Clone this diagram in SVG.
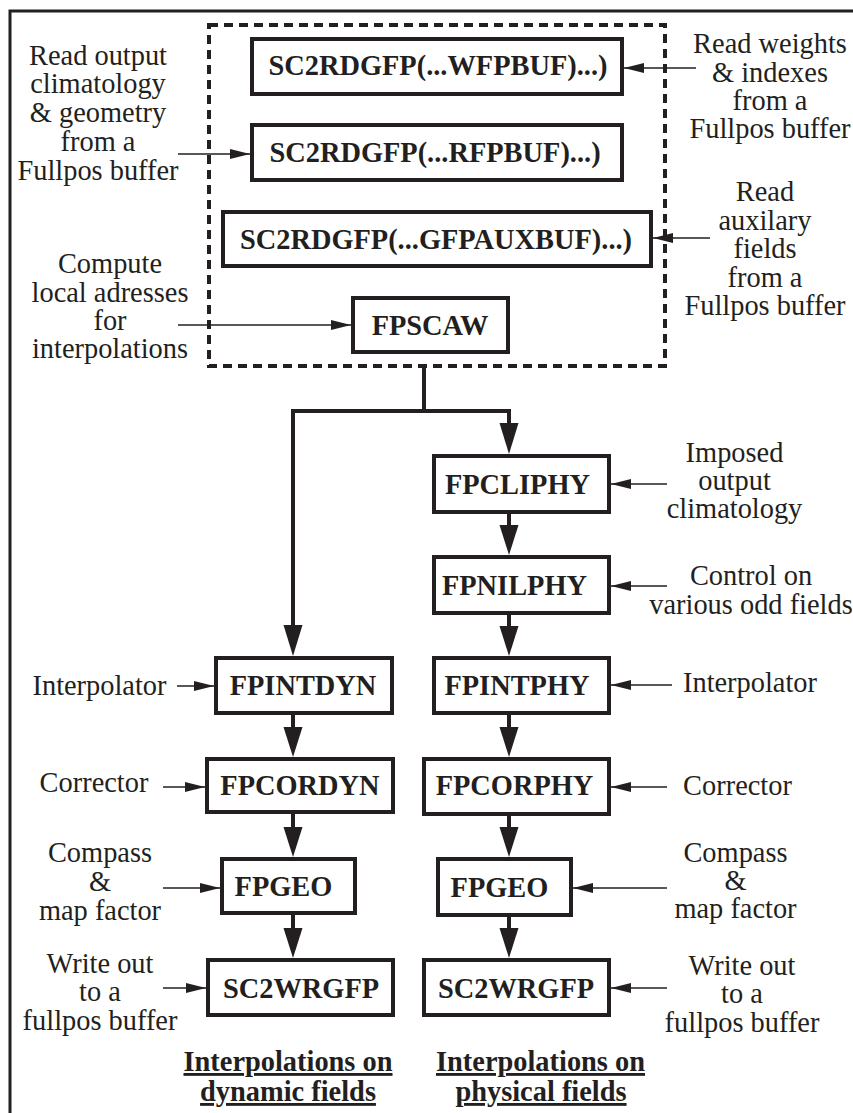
<svg xmlns="http://www.w3.org/2000/svg" width="853" height="1113" viewBox="0 0 853 1113" font-family="'Liberation Serif', 'DejaVu Serif', serif">
<defs>
<style>
.box{fill:#fff;stroke:#231f20;stroke-width:4}
text{font-family:'Liberation Serif','DejaVu Serif',serif;fill:#231f20;text-anchor:middle;font-size:28.4px}
.bt{font-weight:bold}
.cap{font-weight:bold;text-decoration:underline}
.thickn{fill:none;stroke:#231f20;stroke-width:4}
.thin{fill:none;stroke:#231f20;stroke-width:1.3;marker-end:url(#small)}
</style>
<marker id="small" markerUnits="userSpaceOnUse" markerWidth="21" markerHeight="11" refX="20" refY="5.5" orient="auto" viewBox="0 0 21 11">
<path d="M0,0.5 L20,5.5 L0,10.5 Z" fill="#231f20"/>
</marker>
</defs>
<rect x="10" y="11" width="860" height="1120" fill="none" stroke="#231f20" stroke-width="3"/>
<rect id="group-box" x="209" y="25" width="456" height="341" fill="none" stroke="#231f20" stroke-width="4" stroke-dasharray="9 6"/>

<g id="connectors">
<path class="thickn" d="M424,366 V411 H293 V630"/>
<path class="thickn" d="M424,411 H509 V425"/>
<path class="thin" d="M178,154 H250"/>
<path class="thin" d="M178,325 H351"/>
<path class="thin" d="M696,68 H624"/>
<path class="thin" d="M710,238 H653"/>
<path class="thin" d="M667,484 H611"/>
<path class="thin" d="M667,586 H611"/>
<path class="thin" d="M672,685 H611"/>
<path class="thin" d="M667,787 H611"/>
<path class="thin" d="M667,888 H573"/>
<path class="thin" d="M667,988 H611"/>
<path class="thin" d="M177,686 H214"/>
<path class="thin" d="M163,787 H205"/>
<path class="thin" d="M163,888 H220"/>
<path class="thin" d="M163,988 H206"/>
<g fill="#231f20">
<polygon points="283.5,625 302.5,625 293,656"/>
<polygon points="499.5,423 518.5,423 509,454"/>
<path class="thickn" d="M293,715 V735 M293,814 V835 M293,915 V935 M509,514 V533 M509,615 V634 M509,715 V735 M509,816 V835 M509,917 V936"/>
<polygon points="283.5,727 302.5,727 293,757"/>
<polygon points="283.5,827 302.5,827 293,857"/>
<polygon points="283.5,928 302.5,928 293,958"/>
<polygon points="499.5,525 518.5,525 509,555"/>
<polygon points="499.5,626 518.5,626 509,656"/>
<polygon points="499.5,727 518.5,727 509,757"/>
<polygon points="499.5,827 518.5,827 509,857"/>
<polygon points="499.5,928 518.5,928 509,958"/>
</g>
</g>

<g id="n-wfpbuf"><rect class="box" x="252" y="39" width="370" height="55"/><text class="bt" x="438" y="75">SC2RDGFP(...WFPBUF)...)</text></g>
<g id="n-rfpbuf"><rect class="box" x="252" y="125" width="370" height="55"/><text class="bt" x="435" y="162">SC2RDGFP(...RFPBUF)...)</text></g>
<g id="n-gfpauxbuf"><rect class="box" x="223" y="212" width="428" height="54"/><text class="bt" x="436" y="248.5">SC2RDGFP(...GFPAUXBUF)...)</text></g>
<g id="n-fpscaw"><rect class="box" x="353" y="298" width="155" height="54"/><text class="bt" x="430" y="334.5">FPSCAW</text></g>

<g id="n-fpcliphy"><rect class="box" x="434" y="456" width="175" height="56"/><text class="bt" x="517.5" y="493.5">FPCLIPHY</text></g>
<g id="n-fpnilphy"><rect class="box" x="434" y="557" width="175" height="56"/><text class="bt" x="514.5" y="595">FPNILPHY</text></g>
<g id="n-fpintphy"><rect class="box" x="434" y="658" width="175" height="55"/><text class="bt" x="517" y="695">FPINTPHY</text></g>
<g id="n-fpcorphy"><rect class="box" x="424" y="759" width="185" height="55"/><text class="bt" x="514.5" y="795">FPCORPHY</text></g>
<g id="n-fpgeo-r"><rect class="box" x="438" y="859" width="133" height="56"/><text class="bt" x="499.5" y="896.5">FPGEO</text></g>
<g id="n-sc2wrgfp-r"><rect class="box" x="424" y="960" width="185" height="55"/><text class="bt" x="516" y="997.5">SC2WRGFP</text></g>

<g id="n-fpintdyn"><rect class="box" x="216" y="658" width="176" height="55"/><text class="bt" x="303" y="695">FPINTDYN</text></g>
<g id="n-fpcordyn"><rect class="box" x="207" y="759" width="186" height="53"/><text class="bt" x="300" y="795">FPCORDYN</text></g>
<g id="n-fpgeo-l"><rect class="box" x="222" y="859" width="133" height="54"/><text class="bt" x="283.5" y="895.5">FPGEO</text></g>
<g id="n-sc2wrgfp-l"><rect class="box" x="208" y="960" width="185" height="55"/><text class="bt" x="301" y="997.5">SC2WRGFP</text></g>

<g id="labels">
<text><tspan x="98" y="65">Read output</tspan><tspan x="98" y="93">climatology</tspan><tspan x="98" y="122">&amp; geometry</tspan><tspan x="98" y="151">from a</tspan><tspan x="98" y="180">Fullpos buffer</tspan></text>
<text><tspan x="110" y="273">Compute</tspan><tspan x="110" y="302">local adresses</tspan><tspan x="110" y="330">for</tspan><tspan x="110" y="358">interpolations</tspan></text>
<text><tspan x="770" y="53">Read weights</tspan><tspan x="770" y="82">&amp; indexes</tspan><tspan x="770" y="110">from a</tspan><tspan x="770" y="138">Fullpos buffer</tspan></text>
<text><tspan x="765" y="201">Read</tspan><tspan x="765" y="230">auxilary</tspan><tspan x="765" y="258">fields</tspan><tspan x="765" y="287">from a</tspan><tspan x="765" y="315">Fullpos buffer</tspan></text>
<text><tspan x="734.5" y="462">Imposed</tspan><tspan x="734.5" y="490">output</tspan><tspan x="734.5" y="518">climatology</tspan></text>
<text><tspan x="751" y="585">Control on</tspan><tspan x="751" y="614">various odd fields</tspan></text>
<text x="750" y="692">Interpolator</text>
<text x="737.5" y="795">Corrector</text>
<text><tspan x="735.5" y="862">Compass</tspan><tspan x="735.5" y="890">&amp;</tspan><tspan x="735.5" y="918">map factor</tspan></text>
<text><tspan x="742" y="975">Write out</tspan><tspan x="742" y="1003">to a</tspan><tspan x="742" y="1032">fullpos buffer</tspan></text>
<text x="99.5" y="695">Interpolator</text>
<text x="94" y="792">Corrector</text>
<text><tspan x="100" y="862">Compass</tspan><tspan x="100" y="891">&amp;</tspan><tspan x="100" y="920">map factor</tspan></text>
<text><tspan x="100" y="972.5">Write out</tspan><tspan x="100" y="1001">to a</tspan><tspan x="100" y="1029.5">fullpos buffer</tspan></text>
<text class="cap"><tspan x="288" y="1071">Interpolations on</tspan><tspan x="288" y="1101">dynamic fields</tspan></text>
<text class="cap"><tspan x="540.5" y="1071">Interpolations on</tspan><tspan x="541" y="1101">physical fields</tspan></text>
</g>
</svg>
